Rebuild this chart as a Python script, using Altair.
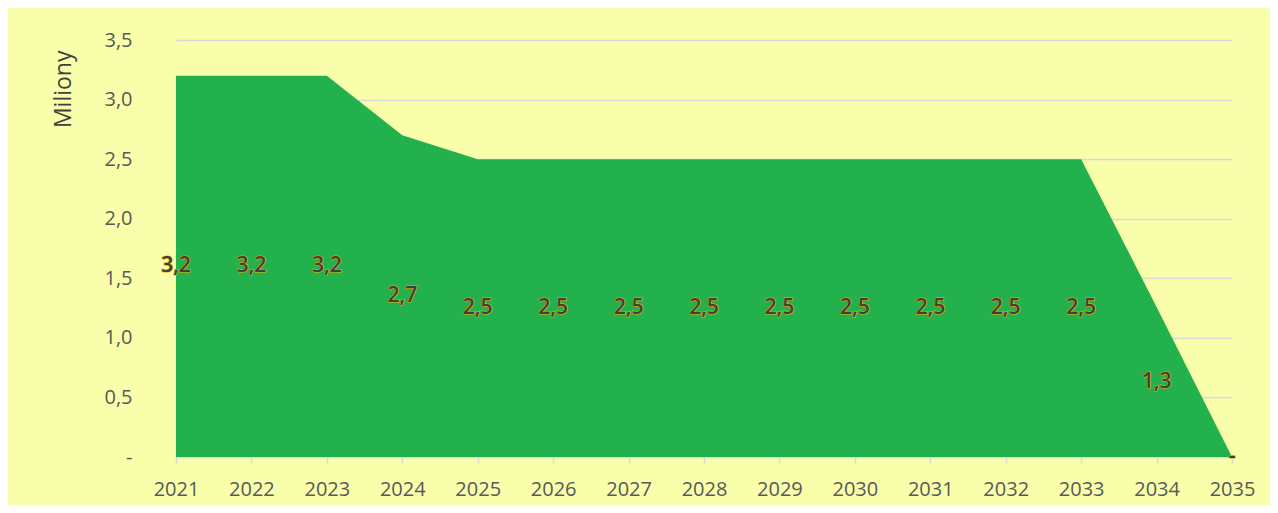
import altair as alt
import pandas as pd

years = [2021, 2022, 2023, 2024, 2025, 2026, 2027, 2028, 2029, 2030, 2031, 2032, 2033, 2034, 2035]
values = [3.2, 3.2, 3.2, 2.7, 2.5, 2.5, 2.5, 2.5, 2.5, 2.5, 2.5, 2.5, 2.5, 1.26, 0.0]
y_ticks = [0, 0.5, 1.0, 1.5, 2.0, 2.5, 3.0, 3.5]

df = pd.DataFrame({"rok": years, "hodnota": values})

FONT = "Open Sans"

x_enc = alt.X(
    "rok:Q",
    scale=alt.Scale(domain=[2021, 2035], nice=False, zero=False),
    axis=alt.Axis(
        values=years, format="d", title=None, grid=False,
        domainColor="#d9d9d9", domainWidth=1.5,
        tickColor="#d9d9d9", tickWidth=1.5, tickSize=6,
        labelColor="#595959", labelFontSize=20, labelFont=FONT,
        labelPadding=16, labelFlush=False,
    ),
)

area = alt.Chart(df).mark_area(color="#23b14d", opacity=1, line=False).encode(
    x=x_enc,
    y=alt.Y(
        "hodnota:Q",
        scale=alt.Scale(domain=[0, 3.5], nice=False),
        axis=alt.Axis(
            values=y_ticks, title="Miliony", titleFontSize=23, titleFont=FONT,
            titleColor="#404040", titleFontWeight="normal", titlePadding=28,
            titleAnchor="end", titleY=10, titleBaseline="bottom",
            labelExpr="datum.value == 0 ? '-' : replace(format(datum.value, '.1f'), '.', ',')",
            labelColor="#595959", labelFontSize=20, labelFont=FONT, labelPadding=44,
            ticks=False, domain=False,
            gridColor="#d9d9d9", gridWidth=1.5,
        ),
    ),
)

labels_base = alt.Chart(df).transform_calculate(
    mid="datum.hodnota / 2",
    txt="datum.hodnota == 0 ? '-' : replace(format(datum.hodnota, '.1f'), '.', ',')",
).encode(
    x=alt.X("rok:Q"),
    y=alt.Y("mid:Q"),
    text="txt:N",
)

labels_stroke = labels_base.mark_text(
    font=FONT, fontSize=21, fontWeight=600, stroke="#e0b000", strokeWidth=1.2,
    fill="#404040", align="center", baseline="middle",
)
labels_fill = labels_base.mark_text(
    font=FONT, fontSize=21, fontWeight=600, fill="#404040",
    align="center", baseline="middle",
)

chart = alt.layer(area, labels_stroke, labels_fill).properties(
    width=1056,
    height=417,
    padding={"left": 168, "top": 32, "right": 38, "bottom": 48},
    autosize=alt.AutoSizeParams(type="none"),
    background="#f8fea9",
).configure_view(stroke=None)

chart.save("out.html", embed_options={"renderer": "svg", "actions": False})
